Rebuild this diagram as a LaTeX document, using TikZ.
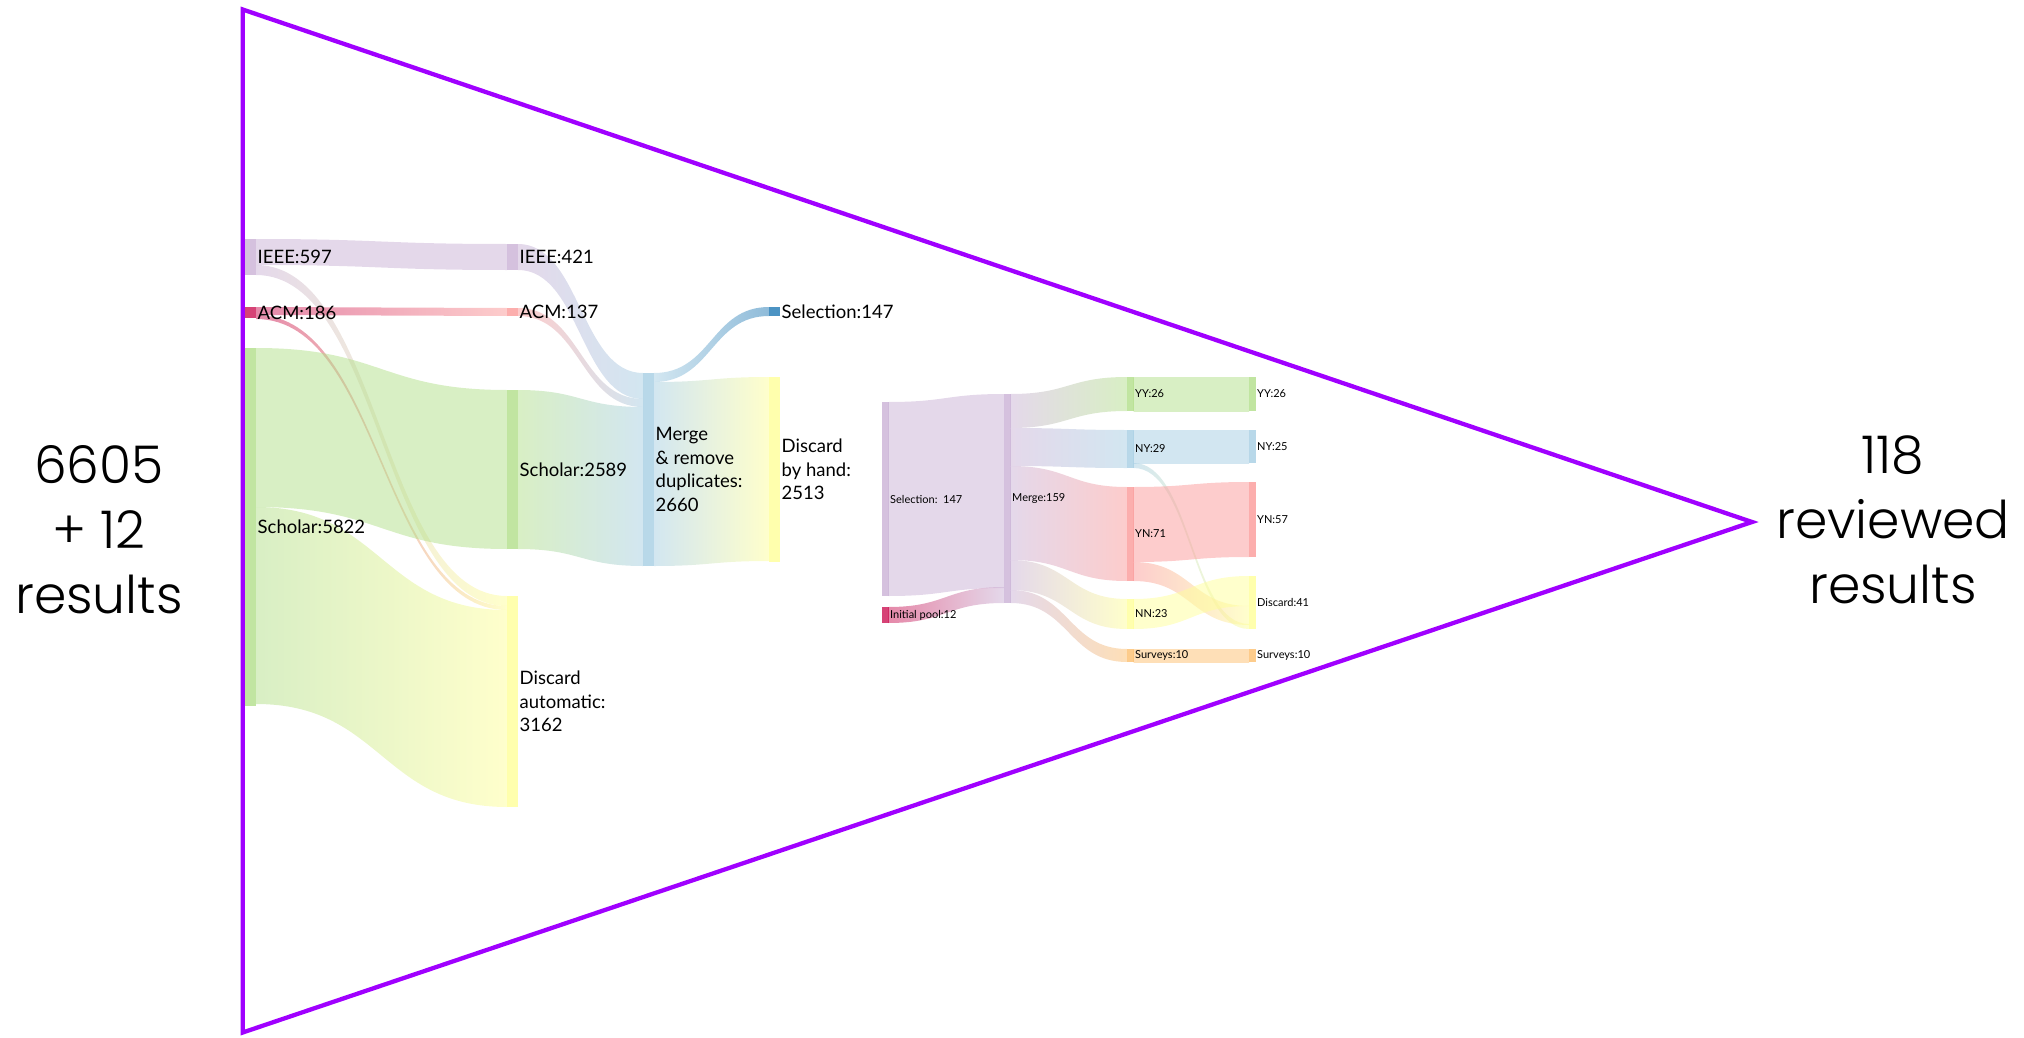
\documentclass[tikz,border=0pt]{standalone}
\usepackage{fontspec}
\setmainfont{Lato}
\newfontfamily\bigfont{Poppins}[UprightFont={* Light}]
\usetikzlibrary{calc}

\definecolor{lilac}{RGB}{202,178,214}
\definecolor{crimson}{RGB}{204,20,84}
\definecolor{rose}{RGB}{251,154,153}
\definecolor{leaf}{RGB}{178,223,138}
\definecolor{sky}{RGB}{166,206,227}
\definecolor{navy}{RGB}{31,120,180}
\definecolor{lemon}{RGB}{255,255,153}
\definecolor{peach}{RGB}{253,191,111}
\definecolor{funnel}{RGB}{160,0,255}

\pgfdeclarelayer{flows}
\pgfsetlayers{flows,main}

% band from bar #1 (offset #2) to bar #3 (offset #4), width #5, colours #6 -> #7
\newcommand{\sflow}[7]{%
  \begin{pgfonlayer}{flows}
    \path[flowband, left color=#6, right color=#7]
      let \p1 = ($(#1.north east)+(0,#2)$),
          \p2 = ($(#3.north west)+(0,#4)$) in
      (\p1) .. controls ({0.5*\x1+0.5*\x2},\y1) and ({0.5*\x1+0.5*\x2},\y2) .. (\p2)
      -- ({\x2},{\y2-#5pt})
      .. controls ({0.5*\x1+0.5*\x2},{\y2-#5pt}) and ({0.5*\x1+0.5*\x2},{\y1-#5pt}) .. ({\x1},{\y1-#5pt})
      -- cycle;
  \end{pgfonlayer}}

\begin{document}
\begin{tikzpicture}[x=1pt, y=-1pt]

  \tikzstyle{sbar}=[rectangle, inner sep=0pt, outer sep=0pt, anchor=north west,
                    fill opacity=.8, minimum width=11pt]
  \tikzstyle{tbar}=[sbar, minimum width=6.5pt]
  \tikzstyle{lbl}=[anchor=west, inner sep=1.5pt, align=left,
                   font={\fontsize{18.5pt}{23.5pt}\selectfont}]
  \tikzstyle{slbl}=[anchor=west, inner sep=1.5pt,
                    font={\fontsize{11pt}{13pt}\selectfont}]
  \tikzstyle{flowband}=[opacity=.5]
  \tikzstyle{big}=[align=center, inner sep=0pt,
                   font={\bigfont\fontsize{52pt}{65pt}\selectfont}]

  \useasboundingbox (0,0) rectangle (2024,1038);

  % search and first filtering
  \foreach \nm/\x/\ya/\yb/\col in {ieeeA/245/239/275/lilac, acmA/245/307/318/crimson,
      scholA/245/348/706/leaf, ieeeB/507/244/270/lilac, acmB/507/308/316/rose,
      scholB/507/390/549/leaf, discA/507/596/807/lemon, merge/643/373/566/sky,
      selA/769/307/316/navy, discB/769/377/562/lemon}
    \node[sbar, fill=\col, minimum height={(\yb-\ya)*1pt}] (\nm) at (\x,\ya) {};

  \node[lbl] (ieeeA-t) at (ieeeA.east) {IEEE:597};
  \node[lbl] (acmA-t) at (acmA.east) {ACM:186};
  \node[lbl] (scholA-t) at (scholA.east) {Scholar:5822};
  \node[lbl] (ieeeB-t) at (ieeeB.east) {IEEE:421};
  \node[lbl] (acmB-t) at (acmB.east) {ACM:137};
  \node[lbl] (scholB-t) at (scholB.east) {Scholar:2589};
  \node[lbl] (discA-t) at (discA.east) {Discard\\automatic:\\3162};
  \node[lbl] (merge-t) at (merge.east) {Merge\\\& remove\\duplicates:\\2660};
  \node[lbl] (selA-t) at (selA.east) {Selection:147};
  \node[lbl] (discB-t) at (discB.east) {Discard\\by hand:\\2513};

  \sflow{ieeeA}{0}{ieeeB}{0}{26}{lilac}{lilac}
  \sflow{ieeeA}{26}{discA}{0}{10}{lilac}{lemon}
  \sflow{acmA}{0}{acmB}{0}{8}{crimson}{rose}
  \sflow{acmA}{8}{discA}{10}{4}{crimson}{lemon}
  \sflow{scholA}{0}{scholB}{0}{159}{leaf}{leaf}
  \sflow{scholA}{159}{discA}{14}{197}{leaf}{lemon}
  \sflow{ieeeB}{0}{merge}{0}{26}{lilac}{sky}
  \sflow{acmB}{0}{merge}{26}{8}{rose}{sky}
  \sflow{scholB}{0}{merge}{34}{159}{leaf}{sky}
  \sflow{merge}{0}{selA}{0}{9}{sky}{navy}
  \sflow{merge}{9}{discB}{0}{184}{sky}{lemon}

  % reading and classification
  \foreach \nm/\x/\ya/\yb/\col/\txt in {selB/882/402/596/lilac/{Selection:\ \ 147},
      poolN/882/607/623/crimson/{Initial pool:12}, merge2/1004/394/603/lilac/{Merge:159},
      yyA/1127/377/411/leaf/{YY:26}, nyA/1127/430/468/sky/{NY:29},
      ynA/1127/487/581/rose/{YN:71}, nnA/1127/599/629/lemon/{NN:23},
      survA/1127/649/662/peach/{Surveys:10}, yyB/1249/377/411/leaf/{YY:26},
      nyB/1249/430/463/sky/{NY:25}, ynB/1249/482/557/rose/{YN:57},
      discC/1249/576/629/lemon/{Discard:41}, survB/1249/649/662/peach/{Surveys:10}}
  {
    \node[tbar, fill=\col, minimum height={(\yb-\ya)*1pt}] (\nm) at (\x,\ya) {};
    \node[slbl] (\nm-t) at (\nm.east) {\txt};
  }

  \sflow{selB}{0}{merge2}{0}{194}{lilac}{lilac}
  \sflow{poolN}{0}{merge2}{193}{16}{crimson}{lilac}
  \sflow{merge2}{0}{yyA}{0}{34}{lilac}{leaf}
  \sflow{merge2}{34}{nyA}{0}{38}{lilac}{sky}
  \sflow{merge2}{72}{ynA}{0}{94}{lilac}{rose}
  \sflow{merge2}{166}{nnA}{0}{30}{lilac}{lemon}
  \sflow{merge2}{196}{survA}{0}{13}{lilac}{peach}
  \sflow{yyA}{0}{yyB}{0}{34}{leaf}{leaf}
  \sflow{nyA}{0}{nyB}{0}{33}{sky}{sky}
  \sflow{nyA}{33}{discC}{48}{5}{sky}{lemon}
  \sflow{ynA}{0}{ynB}{0}{75}{rose}{rose}
  \sflow{ynA}{75}{discC}{30}{19}{rose}{lemon}
  \sflow{nnA}{0}{discC}{0}{30}{lemon}{lemon}
  \sflow{survA}{0}{survB}{0}{13}{peach}{peach}

  % funnel and totals
  \draw[funnel, line width=4.3pt, line join=miter]
    (242.7,9.5) -- (1752,522) -- (242.7,1032.5) -- cycle;

  \node[big] (total) at (99,530) {6605\\+ 12\\results};
  \node[big] (kept) at (1893,520) {118\\reviewed\\results};

\end{tikzpicture}
\end{document}
